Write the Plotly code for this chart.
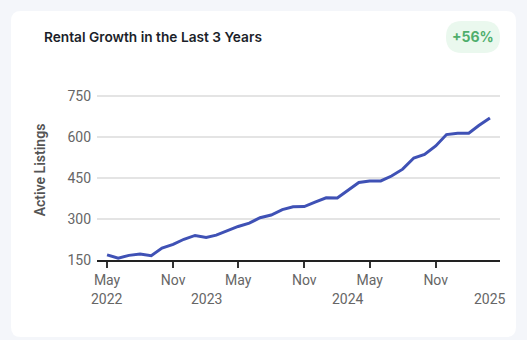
import plotly.graph_objects as go

# ---- data ----
months = [
    "2022-05-01", "2022-06-01", "2022-07-01", "2022-08-01", "2022-09-01", "2022-10-01",
    "2022-11-01", "2022-12-01", "2023-01-01", "2023-02-01", "2023-03-01", "2023-04-01",
    "2023-05-01", "2023-06-01", "2023-07-01", "2023-08-01", "2023-09-01", "2023-10-01",
    "2023-11-01", "2023-12-01", "2024-01-01", "2024-02-01", "2024-03-01", "2024-04-01",
    "2024-05-01", "2024-06-01", "2024-07-01", "2024-08-01", "2024-09-01", "2024-10-01",
    "2024-11-01", "2024-12-01", "2025-01-01", "2025-02-01", "2025-03-01", "2025-04-01",
]
active_listings = [
    169, 157, 167, 172, 166, 194,
    207, 226, 240, 233, 241, 257,
    273, 285, 305, 315, 335, 345,
    346, 362, 378, 377, 406, 434,
    440, 440, 458, 483, 524, 537,
    568, 610, 615, 615, 643, 671,
]
month_tick_dates = ["2022-05-01", "2022-11-01", "2023-05-01", "2023-11-01",
                    "2024-05-01", "2024-11-01"]
month_tick_labels = ["May", "Nov", "May", "Nov", "May", "Nov"]
year_label_dates = ["2022-05-01", "2023-02-01", "2024-03-01", "2025-04-01"]
year_labels = ["2022", "2023", "2024", "2025"]
y_ticks = [150, 300, 450, 600, 750]
title_text = "Rental Growth in the Last 3 Years"
badge_text = "+56%"
y_title = "Active Listings"

# ---- layout geometry (pixels) ----
W, H = 527, 340
PL, PR, PT, PB = 97, 500, 80, 260  # plot area edges


def px_x(px):
    return (px - PL) / (PR - PL)


def px_y(py):
    return (PB - py) / (PB - PT)


def rounded_rect(x0, y0, x1, y1, r):
    # pixel coords (y down) -> paper path
    def P(x, y):
        return f"{px_x(x):.5f},{px_y(y):.5f}"
    return (f"M {P(x0 + r, y0)} L {P(x1 - r, y0)} Q {P(x1, y0)} {P(x1, y0 + r)} "
            f"L {P(x1, y1 - r)} Q {P(x1, y1)} {P(x1 - r, y1)} "
            f"L {P(x0 + r, y1)} Q {P(x0, y1)} {P(x0, y1 - r)} "
            f"L {P(x0, y0 + r)} Q {P(x0, y0)} {P(x0 + r, y0)} Z")


fig = go.Figure()
fig.add_trace(go.Scatter(
    x=months, y=active_listings, mode="lines",
    line=dict(color="#3f51b5", width=3),
    showlegend=False,
))

axis_font = dict(family="Roboto, Arial, sans-serif", size=14, color="#666666")

fig.update_layout(
    width=W, height=H,
    margin=dict(l=PL, r=W - PR, t=PT, b=H - PB),
    paper_bgcolor="#f4f6fa",
    plot_bgcolor="rgba(0,0,0,0)",
    xaxis=dict(
        type="date",
        range=["2022-04-03", "2025-04-29"],
        tickmode="array", tickvals=month_tick_dates, ticktext=month_tick_labels,
        showgrid=False, showline=True, linecolor="#222222", linewidth=2,
        ticks="outside", ticklen=6, tickwidth=2, tickcolor="#333333",
        tickfont=axis_font, zeroline=False,
    ),
    yaxis=dict(
        range=[150, 810],
        tickmode="array", tickvals=y_ticks,
        showgrid=True, gridcolor="#e4e4e4", gridwidth=1.5,
        showline=False, zeroline=False, ticks="",
        tickfont=axis_font, ticklabelstandoff=5,
        title=dict(text=y_title, font=dict(family="Roboto, Arial, sans-serif",
                                           size=14, color="#555555", weight=600),
                   standoff=18),
    ),
    shapes=[
        dict(type="path", xref="paper", yref="paper",
             path=rounded_rect(11, 11, 516, 337, 10),
             fillcolor="#ffffff", line=dict(width=0), layer="below"),
        dict(type="path", xref="paper", yref="paper",
             path=rounded_rect(446, 21, 500, 53, 16),
             fillcolor="#eaf8ee", line=dict(width=0), layer="below"),
    ],
)

annotations = [
    dict(text=title_text, xref="paper", yref="paper", x=px_x(42), y=px_y(37),
         xanchor="left", yanchor="middle", showarrow=False,
         font=dict(family="Inter, Roboto, sans-serif", size=13.7, color="#1c1f2a", weight=600)),
    dict(text=badge_text, xref="paper", yref="paper", x=px_x(473), y=px_y(37),
         xanchor="center", yanchor="middle", showarrow=False,
         font=dict(family="Inter, Roboto, sans-serif", size=14, color="#4fae6c", weight=700)),
]
for d, t in zip(year_label_dates, year_labels):
    annotations.append(dict(text=t, x=d, xref="x", yref="paper", y=px_y(299),
                            xanchor="center", yanchor="middle", showarrow=False,
                            font=axis_font))
fig.update_layout(annotations=annotations)

fig.write_html("out.html")
